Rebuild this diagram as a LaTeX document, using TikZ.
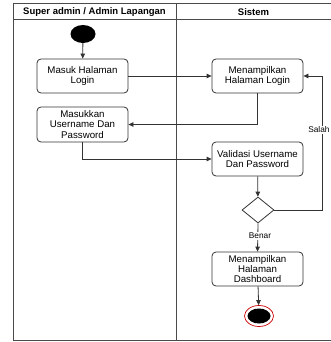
\documentclass[tikz,border=0pt]{standalone}
\usepackage{fontspec}
\setmainfont{Liberation Sans}
\usetikzlibrary{shapes.geometric,arrows.meta}
\definecolor{edge}{HTML}{333333}
\definecolor{frame}{HTML}{4A4A4A}
\tikzset{
  act/.style={draw=edge, line width=0.8pt, rounded corners=4pt, fill=white,
    minimum width=91pt, minimum height=34pt, align=center, inner sep=1pt,
    font=\fontsize{9.7}{10.3}\selectfont},
  flow/.style={draw=edge, line width=0.8pt, -{Triangle[length=5pt,width=4.5pt]}},
  lbl/.style={fill=white, inner sep=0.8pt, font=\fontsize{8.3}{9}\selectfont},
  hdr/.style={font=\fontsize{9.5}{10}\selectfont\bfseries},
}
\begin{document}
\begin{tikzpicture}[x=1pt,y=-1pt]
\useasboundingbox (0,0) rectangle (331,342);
\clip (0,0) rectangle (331,342);
% swimlane frame
\draw[frame, line width=1pt] (13,4) rectangle (340,340);
\draw[frame, line width=1pt] (13,20) -- (340,20);
\draw[frame, line width=1pt] (176,4) -- (176,340);
\node[hdr] (laneA) at (94.5,12.5) {Super admin / Admin Lapangan};
\node[hdr] (laneB) at (253.5,12.5) {Sistem};
% start and end
\node[ellipse, fill=black, minimum width=25pt, minimum height=18pt, inner sep=0pt] (start) at (83,34) {};
\node[ellipse, draw=red!80!black, line width=0.7pt, fill=white, minimum width=29pt, minimum height=21pt, inner sep=0pt] (endo) at (259,316) {};
\node[ellipse, fill=black, minimum width=23pt, minimum height=15pt, inner sep=0pt] (endi) at (259,316) {};
% activities
\node[act] (login) at (82.5,76) {Masuk Halaman\\Login};
\node[act] (show) at (257.5,76) {Menampilkan\\Halaman Login};
\node[act, minimum height=35pt] (input) at (82.5,124.5) {Masukkan\\Username Dan\\Password};
\node[act] (valid) at (257.5,159) {Validasi Username\\Dan Password};
\node[diamond, draw=edge, line width=0.8pt, fill=white, minimum width=32pt, minimum height=26pt, inner sep=0pt, aspect=1.23] (dec) at (258,210) {};
\node[act] (dash) at (257.5,269) {Menampilkan\\Halaman\\Dashboard};
\coordinate (loopR) at (322,210);
\coordinate (loopT) at (322,76);
% connectors
\draw[flow] (start) -- (login);
\draw[flow] (login) -- (show);
\draw[flow] (show.south) |- (input.east);
\draw[flow] (input.south) |- (valid.west);
\draw[flow] (valid) -- (dec);
\draw[flow] (dec.east) -- (loopR) -- (loopT) -- (show.east);
\node[lbl, anchor=east] (salah) at (330.5,130) {Salah};
\draw[flow] (dec.south) -- (dash.north);
\node[lbl] (benar) at (260,236) {Benar};
\draw[flow] (dash) -- (endo);
\end{tikzpicture}
\end{document}
